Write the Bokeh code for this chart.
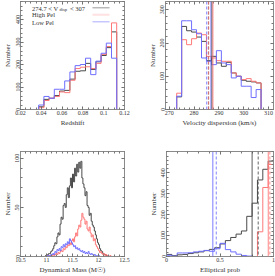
import numpy as np
from bokeh.plotting import figure
from bokeh.layouts import column, row
from bokeh.models import (Range1d, FixedTicker, LinearAxis, Span, Label, BoxAnnotation,
                          CustomLabelingPolicy)
from bokeh.embed import file_html
from bokeh.resources import INLINE

# ---------------- data ----------------
# Panel 1: redshift histogram (bin width 0.005)
z_centers = [0.040, 0.045, 0.050, 0.055, 0.060, 0.065, 0.070, 0.075, 0.080,
             0.085, 0.090, 0.095, 0.100, 0.105, 0.110]
z_width = 0.005
z_all = [12, 45, 50, 62, 82, 85, 135, 170, 172, 205, 178, 212, 240, 275, 345]
z_high = [8, 40, 50, 58, 78, 75, 130, 182, 188, 190, 182, 205, 245, 280, 385]
z_low = [20, 58, 50, 90, 90, 127, 167, 195, 200, 228, 155, 215, 250, 295, 228]

# Panel 2: velocity dispersion histogram (bin width 2 km/s)
v_centers = [274, 276, 278, 280, 282, 284, 286, 288, 290, 292, 294, 296, 298,
             300, 302, 304, 306]
v_width = 2
v_all = [38, 250, 237, 233, 218, 205, 147, 160, 140, 130, 142, 110, 100, 88, 85, 83, 80]
v_high = [49, 210, 195, 213, 230, 225, 160, 155, 147, 145, 145, 110, 100, 90, 93, 85, 80]
v_low = [40, 267, 267, 240, 228, 155, 145, 135, 177, 140, 135, 95, 100, 70, 70, 36, 60]
v_mean = {"all": 287.2, "high": 287.6, "low": 286.8}
v_median = {"all": 285.8, "high": 285.9, "low": 285.1}

# Panel 3: dynamical mass histogram (bins of 0.02 dex starting at 10.90)
m_start = 10.90
m_width = 0.02
m_all = [0, 0, 0, 0, 1, 1, 2, 3, 3, 5, 6, 8, 11, 14, 13, 20, 24, 22, 33, 40,
         38, 52, 54, 50, 63, 70, 60, 72, 80, 70, 84, 76, 90, 82, 94, 86, 96, 90,
         97, 80, 74, 70, 62, 66, 52, 50, 42, 44, 36, 32, 30, 26, 22, 18, 14, 12,
         8, 6, 5, 3, 2, 2, 1, 1, 0, 0, 0]
m_high = [0, 0, 0, 0, 0, 0, 1, 0, 1, 1, 1, 2, 1, 2, 3, 2, 4, 3, 5, 6,
          5, 8, 7, 10, 9, 12, 11, 14, 12, 16, 18, 15, 20, 24, 21, 28, 32, 30,
          37, 44, 40, 38, 33, 36, 28, 26, 30, 24, 20, 22, 16, 18, 12, 10, 8, 6,
          4, 5, 3, 2, 3, 1, 2, 1, 1, 0, 1]
m_low = [0, 0, 0, 0, 0, 0, 1, 0, 1, 2, 2, 3, 2, 5, 4, 7, 6, 8, 6, 10,
         9, 12, 10, 13, 12, 15, 13, 18, 16, 14, 12, 10, 11, 8, 9, 7, 8, 6,
         5, 6, 4, 5, 3, 4, 3, 5, 3, 2, 3, 2, 1, 2, 1, 1, 0, 1,
         0, 0, 0, 0, 0, 0, 0, 0, 0, 0, 0]

# Panel 4: elliptical probability histogram (bin width 0.05)
p_centers = [0.025, 0.075, 0.125, 0.175, 0.225, 0.275, 0.325, 0.375, 0.425, 0.475,
             0.525, 0.575, 0.625, 0.675, 0.725, 0.775, 0.825, 0.875, 0.925, 0.975]
p_width = 0.05
p_all = [10, 4, 8, 10, 14, 18, 22, 28, 34, 42, 60, 76, 91, 107, 122, 192, 255, 366, 417, 456]
p_high = [0, 0, 0, 0, 0, 0, 0, 0, 0, 0, 0, 0, 0, 0, 0, 0, 0, 118, 330, 440]
p_low = [6, 2, 17, 17, 18, 22, 25, 29, 25, 37, 63, 33, 22, 11, 5, 2, 0, 0, 0, 0]
p_mean = {"all": 0.800, "high": 0.951, "low": 0.433}
p_median = {"all": 0.857, "high": 0.966, "low": 0.465}

legend_title = ["274.7 < V", "disp", "< 307"]
legend_names = ["High Pel", "Low Pel"]

# ---------------- style ----------------
C_ALL = "#4a4a4a"
C_HIGH = "#ff7878"
C_LOW = "#6e6eff"
FONT = "Liberation Serif"
AXC = "#8a8a8a"
TXT = "#333333"

HIDE = CustomLabelingPolicy(code="""
for (const i of indices) { indices.unset(i) }
return indices
""")


def step_xy(centers, width, counts):
    xs, ys = [centers[0] - width / 2], [0]
    for c, n in zip(centers, counts):
        xs += [c - width / 2, c + width / 2]
        ys += [n, n]
    xs.append(centers[-1] + width / 2)
    ys.append(0)
    return xs, ys


def style_axis(ax, ticks, minor, labels=True, vertical=False):
    ax.ticker = FixedTicker(ticks=ticks, minor_ticks=minor)
    ax.major_tick_in = 3
    ax.major_tick_out = 0
    ax.minor_tick_in = 2
    ax.minor_tick_out = 0
    ax.axis_line_color = AXC
    ax.major_tick_line_color = "#666666"
    ax.minor_tick_line_color = "#777777"
    ax.major_label_text_font = FONT
    ax.major_label_text_color = TXT
    ax.major_label_text_font_size = "6px" if labels else "0px"
    ax.major_label_standoff = 1 if labels else 0
    if not labels:
        ax.major_label_policy = HIDE
    ax.axis_label_standoff = 1
    ax.axis_label_text_font = FONT
    ax.axis_label_text_font_style = "normal"
    ax.axis_label_text_font_size = "7px"
    ax.axis_label_text_color = TXT
    if vertical:
        ax.major_label_orientation = "vertical"


def make_fig(w, h, bl, br, bt, bb, xr, yr, xt, xm, yt, ym, xlabel, xover=None):
    p = figure(width=w, height=h, x_range=Range1d(*xr), y_range=Range1d(*yr),
               toolbar_location=None, output_backend="svg",
               min_border_left=bl, min_border_right=br,
               min_border_top=bt, min_border_bottom=bb, x_axis_location=None,
               y_axis_location=None)
    p.grid.visible = False
    p.outline_line_color = AXC
    bx = LinearAxis(axis_label=xlabel)
    style_axis(bx, xt, xm)
    if xover:
        bx.major_label_overrides = xover
    p.add_layout(bx, "below")
    ly = LinearAxis(axis_label="Number")
    style_axis(ly, yt, ym, vertical=True)
    p.add_layout(ly, "left")
    tx = LinearAxis()
    style_axis(tx, xt, xm, labels=False)
    p.add_layout(tx, "above")
    ry = LinearAxis()
    style_axis(ry, yt, ym, labels=False)
    p.add_layout(ry, "right")
    return p


def draw_hist(p, centers, width, series):
    for counts, col in series:
        xs, ys = step_xy(centers, width, counts)
        p.line(xs, ys, line_color=col, line_width=1)


def draw_spans(p, means, medians, keys_cols):
    for k, col in keys_cols:
        p.add_layout(Span(location=medians[k], dimension="height", line_color=col,
                          line_width=1, line_dash="3 2", line_alpha=0.85))
        p.add_layout(Span(location=means[k], dimension="height", line_color=col,
                          line_width=1, line_alpha=0.9))


def series(a, h, l):
    return [(a, C_ALL), (h, C_HIGH), (l, C_LOW)]


# ---------------- panel 1 ----------------
p1 = make_fig(138, 138, 16, 14, 1, 29, (0.02, 0.12), (0, 480),
              [0.02, 0.04, 0.06, 0.08, 0.1, 0.12], list(np.arange(0.02, 0.1201, 0.005)),
              [0, 100, 200, 300, 400], list(range(0, 481, 20)), "Redshift",
              xover={0.1: "0.1"})
draw_hist(p1, z_centers, z_width, series(z_all, z_high, z_low))

leg_x = [11.5, 39.0, 49.5]
for txt, lx in zip(legend_title, leg_x):
    sub = txt == "disp"
    p1.add_layout(Label(x=lx, y=99.8 if sub else 101.3, x_units="screen", y_units="screen",
                        text=txt, text_font=FONT, text_font_size="4.5px" if sub else "6.5px",
                        text_color=TXT, text_baseline="middle"))
for txt, ly in zip(legend_names, [94.6, 87.0]):
    p1.add_layout(Label(x=11.5, y=ly, x_units="screen", y_units="screen", text=txt,
                        text_font=FONT, text_font_size="6.5px", text_color=TXT,
                        text_baseline="middle"))
for col, ly, lw in zip([C_ALL, "#ff9a9a", C_LOW], [101.7, 94.7, 87.7], [1, 2, 1]):
    p1.add_layout(BoxAnnotation(left=72, right=89, top=ly, bottom=ly,
                                left_units="screen", right_units="screen",
                                top_units="screen", bottom_units="screen",
                                fill_alpha=0, line_color=col, line_width=lw))

# ---------------- panel 2 ----------------
p2 = make_fig(137, 138, 27, 2, 1, 29, (268.5, 312), (0, 325),
              [270, 280, 290, 300, 310], list(range(270, 311, 2)),
              [0, 100, 200, 300], list(range(0, 321, 20)), "Velocity dispersion (km/s)")
draw_hist(p2, v_centers, v_width, series(v_all, v_high, v_low))
draw_spans(p2, v_mean, v_median, [("low", C_LOW), ("all", C_ALL), ("high", C_HIGH)])

# ---------------- panel 3 ----------------
m_centers = [round(m_start + m_width * (i + 0.5), 3) for i in range(len(m_all))]
p3 = make_fig(138, 138, 15, 14, 13, 17, (10.5, 12.5), (0, 107),
              [10.5, 11, 11.5, 12, 12.5], list(np.arange(10.5, 12.501, 0.1)),
              [0, 50, 100], list(range(0, 107, 10)), "Dynamical Mass (M\u2609)",
              xover={11: "11", 12: "12"})
draw_hist(p3, m_centers, m_width, series(m_all, m_high, m_low))

# ---------------- panel 4 ----------------
p4 = make_fig(137, 138, 28, 2, 13, 17, (0, 1), (0, 502),
              [0, 0.5, 1], list(np.arange(0, 1.001, 0.1)),
              [0, 100, 200, 300, 400], list(range(0, 501, 20)), "Elliptical prob",
              xover={0: "0", 1: "1"})
draw_hist(p4, p_centers, p_width, series(p_all, p_high, p_low))
draw_spans(p4, p_mean, p_median, [("low", C_LOW), ("all", C_ALL), ("high", C_HIGH)])

layout = column(row(p1, p2, spacing=0), row(p3, p4, spacing=0), spacing=0)

html = file_html(layout, INLINE)
html = html.replace("</head>", "<style>html,body{margin:0;padding:0;}</style></head>", 1)
open("out.html", "w").write(html)
